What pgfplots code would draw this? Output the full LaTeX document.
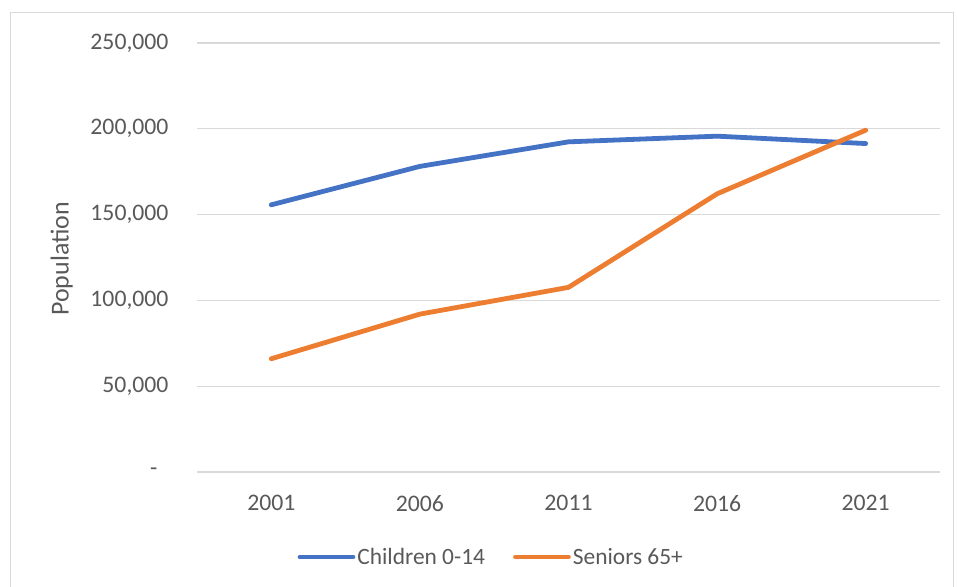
\documentclass[border=0pt]{standalone}
\usepackage{pgfplots}
\pgfplotsset{compat=1.18}
\usepackage{fontspec}
\setmainfont{Carlito}
\definecolor{cblue}{HTML}{4472C4}
\definecolor{corange}{HTML}{ED7D31}
\definecolor{gridgray}{HTML}{D9D9D9}
\definecolor{txt}{HTML}{595959}
\begin{document}
\begin{tikzpicture}
\useasboundingbox (0,0) rectangle (957bp,587bp);
\draw[gridgray, line width=1bp] (10bp,-5bp) -- (10bp,574bp) -- (953bp,574bp) -- (953bp,-5bp);
\begin{axis}[
  at={(197bp,115bp)}, anchor=south west,
  width=743bp, height=429bp, scale only axis,
  xmin=-0.5, xmax=4.5, ymin=0, ymax=250000,
  xtick={0,1,2,3,4}, xticklabels={2001,2006,2011,2016,2021},
  ytick={0,50000,100000,150000,200000,250000},
  yticklabels={{-\rule{11bp}{0pt}},{50,000},{100,000},{150,000},{200,000},{250,000}},
  scaled y ticks=false,
  /pgf/number format/assume math mode=true,
  axis line style={draw=none},
  major tick length=0pt,
  tick style={draw=none},
  xmajorgrids=false, ymajorgrids=true,
  grid style={draw=gridgray, line width=1.2bp},
  tick label style={font=\fontsize{23.8}{28}\selectfont, text=txt},
  yticklabel shift=25bp,
  xticklabel shift=20bp,
  ylabel={Population},
  ylabel style={font=\fontsize{26}{30}\selectfont, text=txt, at={(axis description cs:-0.182,0.497)}, anchor=center},
  legend style={at={(axis description cs:0.396,-0.198)}, anchor=center, draw=none, fill=none,
    font=\fontsize{23.5}{27}\selectfont, text=txt, legend columns=2,
    inner sep=0pt, nodes={inner xsep=2bp},
    /tikz/every even column/.append style={column sep=26bp}},
  legend image code/.code={\draw[#1, line width=4.8bp, line cap=round] (0bp,0bp) -- (53bp,0bp);},
  clip=false,
]
\addplot[cblue, line width=4.8bp, line cap=round, line join=round] coordinates {
 (0,155700) (1,178100) (2,192400) (3,195700) (4,191400)};
\addlegendentry{Children 0-14}
\addplot[corange, line width=4.8bp, line cap=round, line join=round] coordinates {
 (0,66000) (1,92000) (2,107600) (3,162100) (4,199200)};
\addlegendentry{Seniors 65+}
\end{axis}
\end{tikzpicture}
\end{document}
